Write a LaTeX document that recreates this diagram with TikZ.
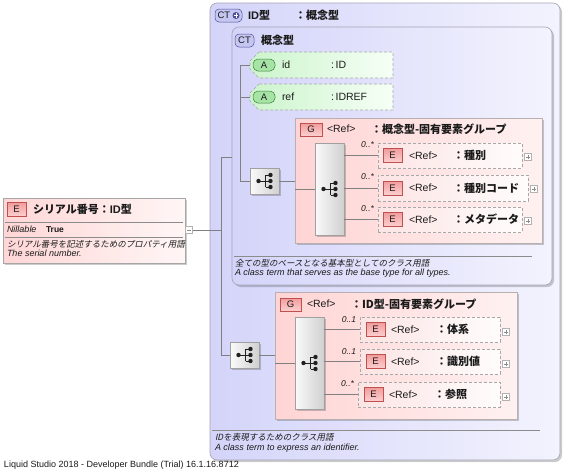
\documentclass[tikz,border=0pt]{standalone}
\usepackage{fontspec}
\setmainfont{Liberation Sans}
\newfontfamily\jp{Noto Sans CJK JP}
\newfontfamily\jpit[FakeSlant=0.2]{Noto Sans CJK JP}
\usetikzlibrary{shadows,calc}
\definecolor{lavL}{HTML}{D4D4FA}
\definecolor{lavR}{HTML}{F3F3FE}
\definecolor{boxB}{HTML}{A4A4B4}
\definecolor{pinkL}{HTML}{FFD4D4}
\definecolor{pinkR}{HTML}{FFF1F1}
\definecolor{grpB}{HTML}{B8B0B0}
\definecolor{eL}{HTML}{FCE4E4}
\definecolor{eR}{HTML}{FFFCFC}
\definecolor{dashC}{HTML}{A8A8A8}
\definecolor{gL}{HTML}{CCF4CC}
\definecolor{gR}{HTML}{F6FFF6}
\definecolor{barL}{HTML}{FAFAFA}
\definecolor{barR}{HTML}{D0D0D0}
\definecolor{barB}{HTML}{A0A0A0}
\definecolor{lineC}{HTML}{808080}
\definecolor{ebT}{HTML}{F29C9C}
\definecolor{ebBt}{HTML}{FCD0D0}
\definecolor{ebBorder}{HTML}{C05050}
\definecolor{abFill}{HTML}{A6E4A6}
\definecolor{abBorder}{HTML}{3E7E3E}
\definecolor{ctFill}{HTML}{C6C6F2}
\definecolor{ctBorder}{HTML}{4E4E96}
\definecolor{txt}{HTML}{1A1A1A}
\definecolor{elL}{HTML}{FFD6D6}
\definecolor{elR}{HTML}{FFF6F6}
\definecolor{dotC}{HTML}{202020}
\newcommand{\seqsym}[1]{%
  \draw[dotC, line width=0.7pt] ($(#1)+(-6,0)$) -- ($(#1)+(1,0)$)
      ($(#1)+(1,-6)$) -- ($(#1)+(1,6)$)
      ($(#1)+(1,-6)$) -- ($(#1)+(6,-6)$)
      ($(#1)+(1,6)$) -- ($(#1)+(6,6)$)
      ($(#1)+(1,0)$) -- ($(#1)+(6,0)$);
  \node[circle, fill=dotC, minimum size=4.4pt] at ($(#1)+(-6,0)$) {};
  \node[circle, fill=dotC, minimum size=4.4pt] at ($(#1)+(6,-6)$) {};
  \node[circle, fill=dotC, minimum size=4.4pt] at ($(#1)+(6,0)$) {};
  \node[circle, fill=dotC, minimum size=4.4pt] at ($(#1)+(6,6)$) {};}
\tikzset{
  every node/.style={inner sep=0pt, outer sep=0pt, text=txt},
  shad/.style={drop shadow={shadow xshift=2pt, shadow yshift=-2pt, opacity=0.2, fill=black}},
  ctbox/.style={rectangle, rounded corners=7pt, draw=boxB, line width=0.6pt, left color=lavL, right color=lavR, shad, anchor=north west},
  grpbox/.style={rectangle, draw=grpB, line width=0.6pt, left color=pinkL, right color=pinkR, shad, anchor=north west},
  ebox/.style={rectangle, draw=dashC, line width=0.6pt, dash pattern=on 3pt off 2pt, left color=eL, right color=eR, anchor=north west},
  barbox/.style={rectangle, draw=barB, line width=0.6pt, left color=barL, right color=barR, shad, anchor=north west},
  seqbox/.style={barbox, minimum width=29pt, minimum height=26pt},
  ebadge/.style={rectangle, draw=ebBorder, line width=0.5pt, top color=ebT, bottom color=ebBt, minimum width=19pt, minimum height=14pt, font=\fontsize{9.5}{9}\selectfont, anchor=west},
  abadge/.style={rectangle, rounded corners=5pt, draw=abBorder, line width=0.5pt, fill=abFill, minimum width=22pt, minimum height=12pt, font=\fontsize{9.5}{9}\selectfont, anchor=west},
  ctbadge/.style={rectangle, rounded corners=4pt, draw=ctBorder, line width=0.5pt, fill=ctFill, minimum height=13pt, font=\fontsize{9.5}{9}\selectfont, anchor=west},
  attr/.style={draw=dashC, line width=0.6pt, dash pattern=on 3pt off 2pt, left color=gL, right color=gR},
  hdr/.style={anchor=west, font=\fontsize{11}{12}\selectfont\bfseries},
  etxt/.style={anchor=west, font=\fontsize{10.5}{12}\selectfont},
  etype/.style={anchor=west, font=\fontsize{11}{12}\selectfont\bfseries},
  desc/.style={anchor=west, font=\fontsize{9}{10}\selectfont\itshape},
  jdesc/.style={anchor=west, font=\fontsize{8.5}{10}\selectfont\jpit},
  mult/.style={anchor=east, font=\fontsize{8.5}{9}\selectfont\itshape},
  plusic/.style={rectangle, draw=black!30, fill=white, minimum size=7pt, line width=0.5pt,
     path picture={\draw[black!45, line width=0.5pt] ([xshift=-2.2pt]path picture bounding box.center) -- ([xshift=2.2pt]path picture bounding box.center)
       ([yshift=-2.2pt]path picture bounding box.center) -- ([yshift=2.2pt]path picture bounding box.center);}},
  minusic/.style={rectangle, draw=black!30, fill=white, minimum size=7pt, line width=0.5pt,
     path picture={\draw[black!45, line width=0.5pt] ([xshift=-2.2pt]path picture bounding box.center) -- ([xshift=2.2pt]path picture bounding box.center);}},
  conn/.style={draw=lineC, line width=0.6pt},
  sepl/.style={draw=black!45, line width=0.5pt},
}
\begin{document}
\begin{tikzpicture}[x=1pt, y=-1pt]
\path[use as bounding box, fill=white] (0,0) rectangle (563,472);

% ---------- outer complex type ----------
\node[ctbox, minimum width=350pt, minimum height=457pt] (ct1) at (210,3) {};
\node[ctbadge, minimum width=27pt] (ct1b) at (215,15.5) {};
\node[anchor=west, font=\fontsize{9.5}{9}\selectfont] (ct1bt) at (217.5,15.5) {CT};
\node[circle, fill=ctBorder, minimum size=7pt] (ct1plus) at (236,15.5) {};
\draw[white, line width=1pt] ($(ct1plus.center)+(-2.2,0)$) -- ($(ct1plus.center)+(2.2,0)$)
   ($(ct1plus.center)+(0,-2.2)$) -- ($(ct1plus.center)+(0,2.2)$);
\node[hdr] (ct1n) at (248,15.5) {ID{\jp 型}};
\node[hdr] (ct1t) at (295,15.5) {\jp ：概念型};

% ---------- inner complex type ----------
\node[ctbox, minimum width=320pt, minimum height=258pt] (ct2) at (232,27) {};
\node[ctbadge, minimum width=19pt] (ct2b) at (235,40.5) {CT};
\node[hdr] (ct2n) at (261,40) {\jp 概念型};

% attributes
\node[minimum width=143pt, minimum height=26pt, anchor=north west] (aid) at (250,52) {};
\path[attr] ($(aid.north west)+(9,0)$) -- (aid.north east) -- (aid.south east) -- ($(aid.south west)+(9,0)$)
   -- ($(aid.west)+(0,4)$) -- ($(aid.west)+(0,-4)$) -- cycle;
\node[abadge] (aidb) at (253,65) {A};
\node[etxt] (aidn) at (282,65) {id};
\node[etxt] (aidt) at (331,65) {:\,ID};

\node[minimum width=143pt, minimum height=26pt, anchor=north west] (aref) at (250,84) {};
\path[attr] ($(aref.north west)+(9,0)$) -- (aref.north east) -- (aref.south east) -- ($(aref.south west)+(9,0)$)
   -- ($(aref.west)+(0,4)$) -- ($(aref.west)+(0,-4)$) -- cycle;
\node[abadge] (arefb) at (253,97) {A};
\node[etxt] (arefn) at (282,97) {ref};
\node[etxt] (areft) at (331,97) {:\,IDREF};

% sequence 1
\node[seqbox] (seq1) at (250,168) {};
\seqsym{seq1.center}

% group 1
\node[grpbox, minimum width=247pt, minimum height=125pt] (g1) at (295,118) {};
\node[ebadge, minimum width=22pt, minimum height=13pt] (g1b) at (300,129.5) {G};
\node[etxt] (g1r) at (327,129) {<Ref>};
\node[etype] (g1t) at (371,129) {\jp ：概念型-固有要素グループ};
\node[barbox, minimum width=29pt, minimum height=92pt] (bar1) at (315,143) {};
\seqsym{bar1.center}

% elements in group 1
\node[ebox, minimum width=144pt, minimum height=25pt] (e1) at (378,143) {};
\node[ebadge] (e1b) at (383,155.5) {E};
\node[etxt] (e1r) at (409,155.5) {<Ref>};
\node[etype] (e1t) at (453,155.5) {\jp ：種別};
\node[plusic] (e1p) at (528,157) {};
\node[mult] (m1) at (374,145) {0..*};

\node[ebox, minimum width=150pt, minimum height=26pt] (e2) at (378,175) {};
\node[ebadge] (e2b) at (383,188) {E};
\node[etxt] (e2r) at (409,188) {<Ref>};
\node[etype] (e2t) at (453,188) {\jp ：種別コード};
\node[plusic] (e2p) at (534,189) {};
\node[mult] (m2) at (374,177) {0..*};

\node[ebox, minimum width=144pt, minimum height=25pt] (e3) at (378,207) {};
\node[ebadge] (e3b) at (383,219.5) {E};
\node[etxt] (e3r) at (409,219.5) {<Ref>};
\node[etype] (e3t) at (453,219.5) {\jp ：メタデータ};
\node[plusic] (e3p) at (528,221) {};
\node[mult] (m3) at (374,209) {0..*};

% description of inner CT
\draw[sepl] (234,256) -- (532,256);
\node[jdesc] (d1a) at (235,263) {全ての型のベースとなる基本型としてのクラス用語};
\node[desc] (d1b) at (235,273) {A class term that serves as the base type for all types.};

% sequence 2 and group 2
\node[seqbox] (seq2) at (230,342) {};
\seqsym{seq2.center}
\node[grpbox, minimum width=242pt, minimum height=127pt] (g2) at (275,292) {};
\node[ebadge, minimum width=21pt, minimum height=13pt] (g2b) at (280,304.5) {G};
\node[etxt] (g2r) at (307,304) {<Ref>};
\node[etype] (g2t) at (351,304) {\jp ：ID型-固有要素グループ};
\node[barbox, minimum width=29pt, minimum height=92pt] (bar2) at (295,317) {};
\seqsym{bar2.center}

\node[ebox, minimum width=140pt, minimum height=25pt] (e4) at (360,317) {};
\node[ebadge] (e4b) at (366,329.5) {E};
\node[etxt] (e4r) at (391,329.5) {<Ref>};
\node[etype] (e4t) at (436,329.5) {\jp ：体系};
\node[plusic] (e4p) at (506,332) {};
\node[mult] (m4) at (356,320) {0..1};

\node[ebox, minimum width=140pt, minimum height=25pt] (e5) at (360,349) {};
\node[ebadge] (e5b) at (366,361.5) {E};
\node[etxt] (e5r) at (391,361.5) {<Ref>};
\node[etype] (e5t) at (436,361.5) {\jp ：識別値};
\node[plusic] (e5p) at (506,364) {};
\node[mult] (m5) at (356,352) {0..1};

\node[ebox, minimum width=142pt, minimum height=25pt] (e6) at (358,382) {};
\node[ebadge] (e6b) at (364,394.5) {E};
\node[etxt] (e6r) at (389,394.5) {<Ref>};
\node[etype] (e6t) at (434,394.5) {\jp ：参照};
\node[plusic] (e6p) at (506,397) {};
\node[mult] (m6) at (354,384) {0..*};

% description of outer CT
\draw[sepl] (212,430) -- (540,430);
\node[jdesc] (d2a) at (215,437) {IDを表現するためのクラス用語};
\node[desc] (d2b) at (215,448) {A class term to express an identifier.};

% ---------- left element ----------
\node[rectangle, draw=black!35, line width=0.6pt, left color=elL, right color=elR, shad, anchor=north west,
      minimum width=182pt, minimum height=65pt] (el) at (3,198) {};
\node[ebadge] (elb) at (7,209.5) {E};
\node[hdr] (elt) at (33,209) {\jp シリアル番号：{\rmfamily ID}型};
\draw[sepl] ($(el.north west)+(2,24)$) -- ($(el.north east)+(-2,24)$);
\node[desc] (elnl) at (7,229.5) {Nillable};
\node[anchor=west, font=\fontsize{8.5}{9}\selectfont\bfseries] (elnv) at (46,229.5) {True};
\draw[sepl] ($(el.north west)+(2,39)$) -- ($(el.north east)+(-2,39)$);
\node[jdesc] (elda) at (7,244) {シリアル番号を記述するためのプロパティ用語};
\node[desc] (eldb) at (7,253.5) {The serial number.};
\node[minusic] (elm) at (189,230) {};

% ---------- connectors ----------
\coordinate (jm) at (221,230);
\coordinate (jt) at (221,157);
\coordinate (jb) at (221,355);
\coordinate (ja) at (240,65);
\draw[conn] (elm.east) -- (jm);
\draw[conn] (jt) -- (jb);
\draw[conn] (jt) -- (jt -| ct2.west);
\draw[conn] (jb) -- (seq2.west);
\draw[conn] (ja) -- (aid.west);
\draw[conn] (ja) -- (ja |- seq1.west) -- (seq1.west);
\draw[conn] (ja |- aref.west) -- (aref.west);
\draw[conn] (seq1.east) -- (seq1.east -| g1.west);
\draw[conn] (bar1.west -| g1.west) -- (bar1.west);
\draw[conn] (bar1.east |- e1.west) -- (e1.west);
\draw[conn] (bar1.east |- e2.west) -- (e2.west);
\draw[conn] (bar1.east |- e3.west) -- (e3.west);
\draw[conn] (seq2.east) -- (seq2.east -| g2.west);
\draw[conn] (bar2.west -| g2.west) -- (bar2.west);
\draw[conn] (bar2.east |- e4.west) -- (e4.west);
\draw[conn] (bar2.east |- e5.west) -- (e5.west);
\draw[conn] (bar2.east |- e6.west) -- (e6.west);

% footer
\node[anchor=west, font=\fontsize{9}{10}\selectfont] (foot) at (4,465) {Liquid Studio 2018 - Developer Bundle (Trial) 16.1.16.8712};
\end{tikzpicture}
\end{document}
